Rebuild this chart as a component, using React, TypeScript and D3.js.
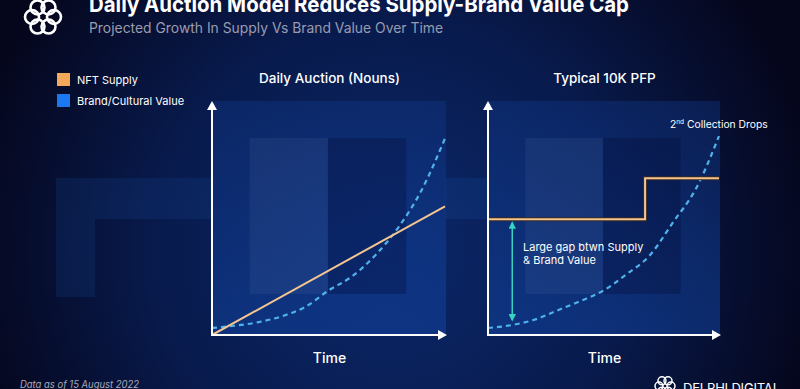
import React from 'react';
import * as d3 from 'd3';

// chart data
const timeSteps = [0, 1, 2, 3, 4, 5, 6, 7, 8, 9, 10];
const nounsSupplyTime = [0, 10];
const nounsSupply = [0, 55];
const nounsBrand = [3, 4, 5.5, 8, 12, 19, 25, 34, 46, 62, 84];
const pfpSupplyTime = [0, 6.8, 10];
const pfpSupply = [49.5, 67, 67];
const pfpBrand = [3, 4.2, 6.5, 10.5, 14.5, 19, 26, 34, 48, 62.5, 85];
const gapTime = 1.05;
const gapRange = [48, 6.4];
const legendLabels = ['NFT Supply', 'Brand/Cultural Value'];
const panelTitles = ['Daily Auction (Nouns)', 'Typical 10K PFP'];

const W = 800;
const H = 389;
const FONT = 'Inter, "Noto Sans", sans-serif';
const SUPPLY = '#f4c590';
const BRAND = '#4fb2ec';
const LEGEND_COLORS = ['#f5a85a', '#1c78f0'];

type PanelProps = {
  x0: number;
  x1: number;
  title: string;
  children: (x: d3.ScaleLinear<number, number>, y: d3.ScaleLinear<number, number>) => React.ReactNode;
};

const yTop = 101;
const yBase = 335;

function Panel({ x0, x1, title, children }: PanelProps) {
  const x = d3.scaleLinear().domain([0, 10]).range([x0, x1 - 2]);
  const y = d3.scaleLinear().domain([0, 100]).range([yBase, yTop]);
  const w = x1 - x0;
  const eyeW = w / 3;
  return (
    <g>
      {/* lens of the glasses */}
      <rect x={x0 + 1} y={yTop} width={w - 2} height={yBase - yTop} fill="url(#lens)" />
      <rect x={x0 + w * 0.16} y={138} width={eyeW} height={156} fill="#6d86b8" opacity={0.12} />
      <rect x={x0 + w * 0.16 + eyeW} y={138} width={eyeW} height={156} fill="#020a33" opacity={0.3} />
      <text x={(x0 + x1) / 2} y={83} textAnchor="middle" fill="#fff" fontSize={13.5} fontFamily={FONT} fontWeight={500}>
        {title}
      </text>
      {children(x, y)}
      {/* axes */}
      <line x1={x0} x2={x0} y1={yBase + 1} y2={yTop + 8} stroke="#fff" strokeWidth={2} />
      <path d={`M${x0 - 5},${yTop + 9} L${x0},${yTop} L${x0 + 5},${yTop + 9} Z`} fill="#fff" />
      <line x1={x0 - 1} x2={x1 - 8} y1={yBase} y2={yBase} stroke="#fff" strokeWidth={2} />
      <path d={`M${x1 - 9},${yBase - 5} L${x1},${yBase} L${x1 - 9},${yBase + 5} Z`} fill="#fff" />
      <text x={(x0 + x1) / 2} y={363} textAnchor="middle" fill="#fff" fontSize={14} fontFamily={FONT} fontWeight={500}>
        Time
      </text>
    </g>
  );
}

export default function App() {
  const brandLine = (x: d3.ScaleLinear<number, number>, y: d3.ScaleLinear<number, number>, vals: number[]) =>
    d3.line<number>().x((_, i) => x(timeSteps[i])).y(d => y(d)).curve(d3.curveMonotoneX)(vals) || '';

  const logoAngles = d3.range(6).map(i => (i * Math.PI * 2) / 6);

  return (
    <svg width={W} height={H} style={{ position: 'absolute', left: 0, top: 0, display: 'block' }}>
      <defs>
        <radialGradient id="bg" cx="390" cy="250" r="430" gradientUnits="userSpaceOnUse">
          <stop offset="0" stopColor="#0b286a" />
          <stop offset="0.55" stopColor="#081a4c" />
          <stop offset="1" stopColor="#05061c" />
        </radialGradient>
        <linearGradient id="lens" x1="0" y1="0" x2="0" y2="1">
          <stop offset="0" stopColor="#11388a" stopOpacity={0.38} />
          <stop offset="1" stopColor="#1246a6" stopOpacity={0.5} />
        </linearGradient>
        <marker id="tip" viewBox="0 0 10 10" refX="8" refY="5" markerWidth="5" markerHeight="5" orient="auto-start-reverse">
          <path d="M0,0 L10,5 L0,10 Z" fill="#36d3c2" />
        </marker>
      </defs>
      <rect width={W} height={H} fill="url(#bg)" />

      {/* glasses arm and bridge */}
      <rect x={56} y={178} width={156} height={41} fill="#1a4a9c" opacity={0.2} />
      <rect x={56} y={219} width={39} height={78} fill="#1a4a9c" opacity={0.2} />
      <rect x={445} y={178} width={43} height={41} fill="#1a4a9c" opacity={0.24} />

      {/* logo */}
      <g transform="translate(43,17)" fill="none" stroke="#fff" strokeWidth={2.6}>
        {logoAngles.map((a, i) => (
          <circle key={i} cx={Math.cos(a) * 11} cy={Math.sin(a) * 11} r={7} />
        ))}
      </g>

      <text x={89} y={12} fill="#fff" fontSize={22} fontWeight={700} fontFamily={FONT} textLength={540} lengthAdjust="spacingAndGlyphs">
        Daily Auction Model Reduces Supply-Brand Value Cap
      </text>
      <text x={89} y={33} fill="#9a9cb0" fontSize={14} fontFamily={FONT} textLength={354} lengthAdjust="spacingAndGlyphs">
        Projected Growth In Supply Vs Brand Value Over Time
      </text>

      {/* legend */}
      {legendLabels.map((label, i) => (
        <g key={label} transform={`translate(57,${73 + i * 21})`}>
          <rect width={13} height={13} fill={LEGEND_COLORS[i]} />
          <text x={20} y={11} fill="#fff" fontSize={11} fontFamily={FONT}>
            {label}
          </text>
        </g>
      ))}

      <Panel x0={212} x1={447} title={panelTitles[0]}>
        {(x, y) => (
          <g>
            <path d={brandLine(x, y, nounsBrand)} fill="none" stroke={BRAND} strokeWidth={2.2} strokeDasharray="5 4" />
            <path
              d={d3.line<number>().x((_, i) => x(nounsSupplyTime[i])).y(d => y(d))(nounsSupply) || ''}
              fill="none"
              stroke={SUPPLY}
              strokeWidth={2}
            />
          </g>
        )}
      </Panel>

      <Panel x0={488} x1={721} title={panelTitles[1]}>
        {(x, y) => (
          <g>
            <path d={brandLine(x, y, pfpBrand)} fill="none" stroke={BRAND} strokeWidth={2.2} strokeDasharray="5 4" />
            <path
              d={d3.line<number>().x((_, i) => x(pfpSupplyTime[i])).y(d => y(d)).curve(d3.curveStepAfter)(pfpSupply) || ''}
              fill="none"
              stroke="#3a2a20"
              strokeWidth={4}
            />
            <path
              d={d3.line<number>().x((_, i) => x(pfpSupplyTime[i])).y(d => y(d)).curve(d3.curveStepAfter)(pfpSupply) || ''}
              fill="none"
              stroke={SUPPLY}
              strokeWidth={2}
            />
            <line
              x1={x(gapTime)}
              x2={x(gapTime)}
              y1={y(gapRange[0])}
              y2={y(gapRange[1])}
              stroke="#36d3c2"
              strokeWidth={1.5}
              markerStart="url(#tip)"
              markerEnd="url(#tip)"
            />
            <text x={523} y={251} fill="#fff" fontSize={11} fontFamily={FONT}>
              Large gap btwn Supply
            </text>
            <text x={523} y={264} fill="#fff" fontSize={11} fontFamily={FONT}>
              &amp; Brand Value
            </text>
            <text x={670} y={128} fill="#fff" fontSize={10.3} fontFamily={FONT}>
              2<tspan fontSize={6.5} dy={-3.8}>nd</tspan>
              <tspan dy={3.8}> Collection Drops</tspan>
            </text>
          </g>
        )}
      </Panel>

      {/* footer */}
      <text x={20} y={388} fill="#a8aabb" fontSize={10} fontStyle="italic" fontFamily={FONT} textLength={119} lengthAdjust="spacingAndGlyphs">
        Data as of 15 August 2022
      </text>
      <g transform="translate(665,386)" fill="none" stroke="#fff" strokeWidth={1.5}>
        {logoAngles.map((a, i) => (
          <circle key={i} cx={Math.cos(a) * 6} cy={Math.sin(a) * 6} r={4} />
        ))}
      </g>
      <text x={683} y={393} fill="#fff" fontSize={13} fontFamily={FONT} fontWeight={400} textLength={97} lengthAdjust="spacing">
        DELPHI DIGITAL
      </text>
    </svg>
  );
}
